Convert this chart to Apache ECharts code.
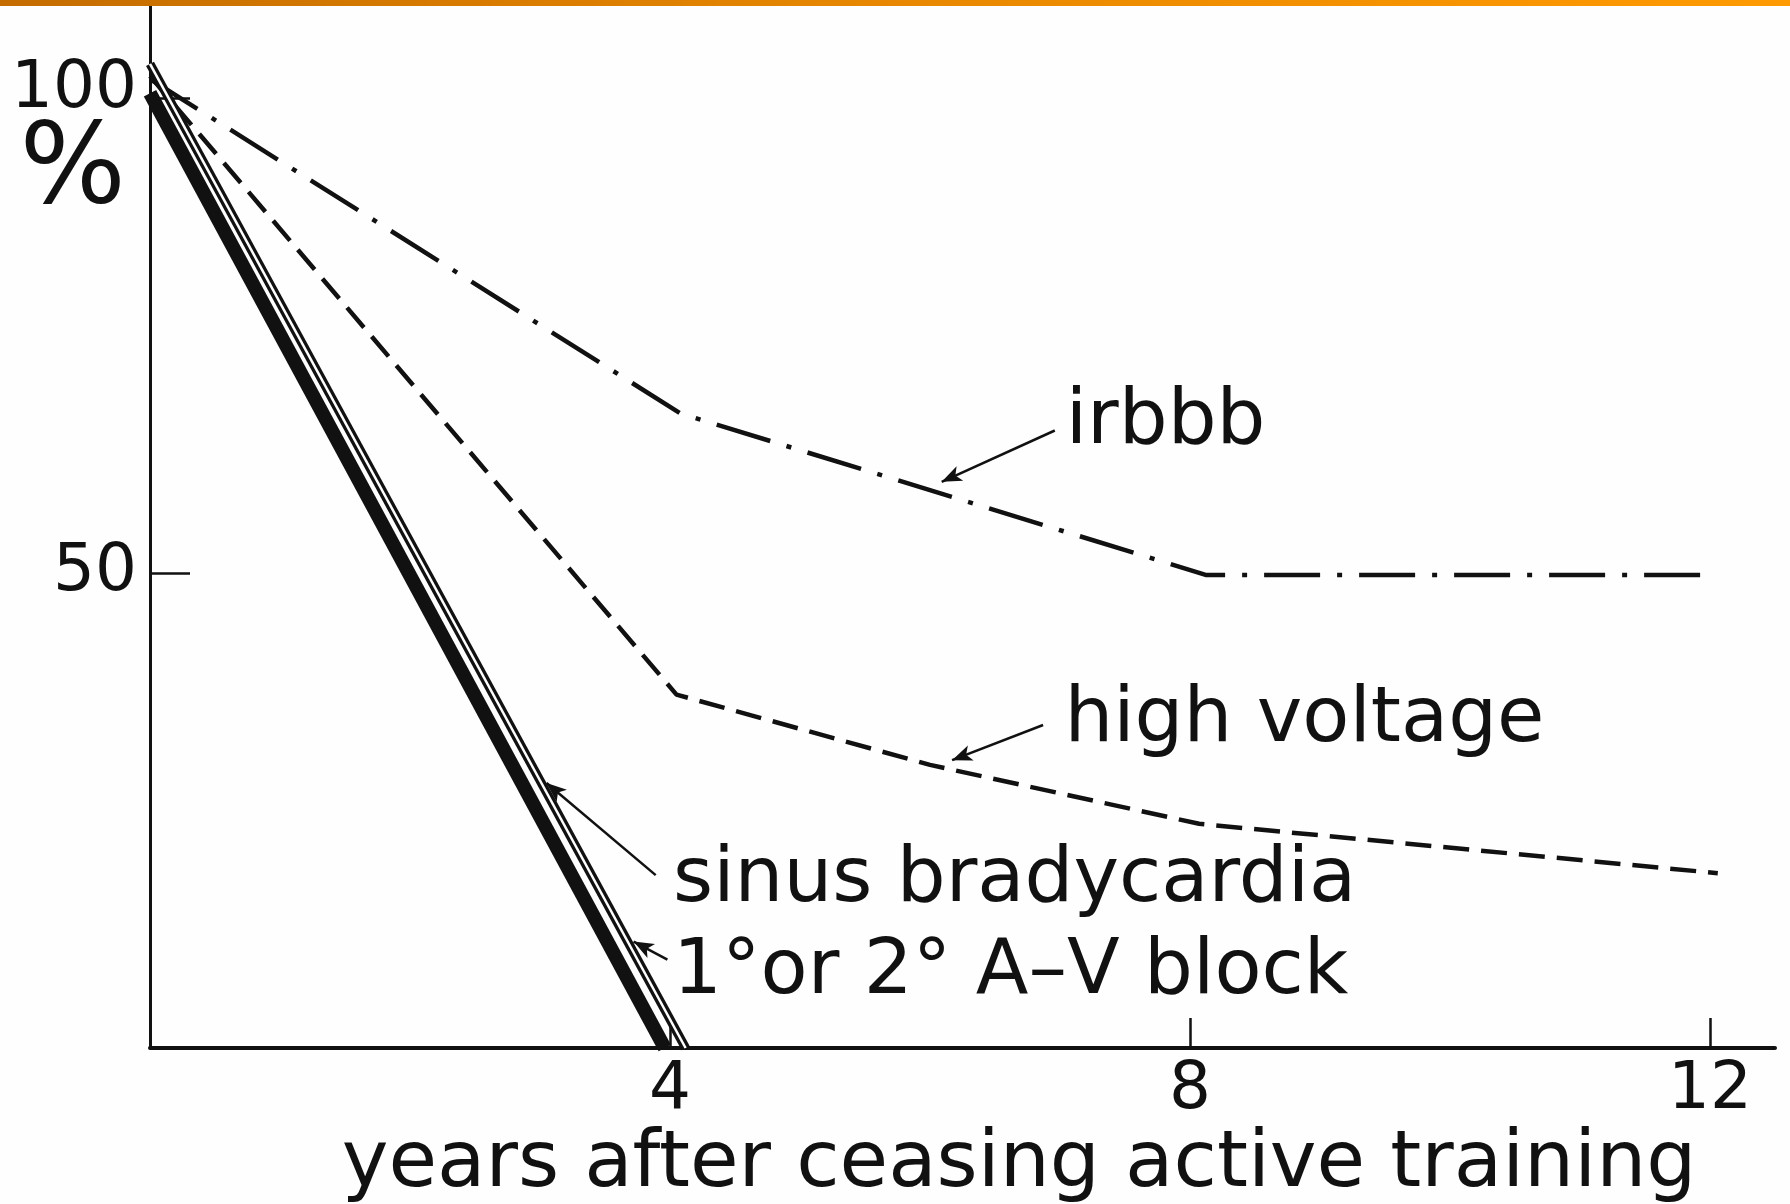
<!DOCTYPE html>
<html><head><meta charset="utf-8">
<script src="https://cdn.jsdelivr.net/npm/echarts@6/dist/echarts.min.js"></script>
<style>html,body{margin:0;padding:0;background:#fefefe}#c{width:1790px;height:1204px}</style>
</head><body><div id="c"></div>
<script>
// ---- data ----
const irbbbX = [0, 4.08, 8.12, 11.98];
const irbbbY = [102, 66.8, 49.8, 49.8];
const highVoltageX = [0, 4.05, 6.0, 8.07, 12.06];
const highVoltageY = [102.3, 37.2, 29.8, 23.6, 18.4];
const sinusX = [0, 4.12];
const sinusY = [103.6, 0];
const avBlockX = [0, 3.96];
const avBlockY = [100.5, 0];
const xTicks = [4, 8, 12];
const yTicks = [50, 100];
const labelTexts = ['irbbb', 'high voltage', 'sinus bradycardia', '1°or 2° A–V block'];
const labelX = [7.04, 7.03, 4.02, 4.02];
const labelY = [65.8, 34.4, 17.6, 7.9];
const arrowFromX = [6.96, 6.87, 3.89, 3.98];
const arrowFromY = [65.0, 34.0, 18.2, 9.3];
const arrowToX = [6.09, 6.17, 3.05, 3.72];
const arrowToY = [59.6, 30.3, 27.9, 11.2];
const xName = 'years after ceasing active training';
const yName = '%';

const zip = (xs, ys) => xs.map((x, i) => [x, ys[i]]);
const INK = '#111';
const FONT = 'DejaVu Sans';

const chart = echarts.init(document.getElementById('c'), null, {renderer: 'canvas'});
chart.setOption({
  animation: false,
  backgroundColor: '#fefefe',
  graphic: [{
    type: 'rect', left: 0, top: 0, z: 100,
    shape: {width: 1790, height: 6},
    style: {fill: new echarts.graphic.LinearGradient(0, 0, 1, 0, [
      {offset: 0, color: '#c46c00'}, {offset: 0.5, color: '#e88800'}, {offset: 1, color: '#ff9a00'}])}
  }],
  grid: {left: 150, right: 15, top: 3, bottom: 156, containLabel: false, outerBoundsMode: 'none'},
  xAxis: {
    type: 'value', min: 0, max: 12.5, interval: 4,
    name: xName, nameLocation: 'middle', nameGap: 78, nameMoveOverlap: false,
    nameTextStyle: {fontFamily: FONT, fontSize: 79, color: INK, padding: [0, 0, 0, 113]},
    axisLine: {show: true, onZero: false, lineStyle: {color: INK, width: 4}},
    axisTick: {show: true, inside: true, length: 30, customValues: xTicks, lineStyle: {color: INK, width: 2.5}},
    axisLabel: {customValues: xTicks, fontFamily: FONT, fontSize: 66, color: INK, margin: 10},
    splitLine: {show: false}
  },
  yAxis: {
    type: 'value', min: 0, max: 110, interval: 50,
    name: yName, nameLocation: 'end', nameGap: -170, nameMoveOverlap: false,
    nameTextStyle: {fontFamily: FONT, fontSize: 112, color: INK, align: 'right', verticalAlign: 'middle', padding: [0, 24, 0, 0]},
    axisLine: {show: true, onZero: false, lineStyle: {color: INK, width: 3}},
    axisTick: {show: true, inside: true, length: 40, customValues: yTicks, lineStyle: {color: INK, width: 2.5}},
    axisLabel: {
      customValues: yTicks, fontFamily: FONT, fontSize: 66, color: INK, margin: 13,
      formatter: v => v === 100 ? '{up|100}' : String(v),
      rich: {up: {fontFamily: FONT, fontSize: 66, color: INK, padding: [0, 0, 16, 0]}}
    },
    splitLine: {show: false}
  },
  series: [
    {name: 'irbbb', type: 'line', symbol: 'none', data: zip(irbbbX, irbbbY),
     lineStyle: {color: INK, width: 4.5, type: [56, 17, 5, 17]}},
    {name: 'high voltage', type: 'line', symbol: 'none', data: zip(highVoltageX, highVoltageY),
     lineStyle: {color: INK, width: 4.5, type: [26, 12]}},
    {name: 'sinus bradycardia', type: 'line', symbol: 'none', data: zip(sinusX, sinusY),
     lineStyle: {color: INK, width: 9}},
    {name: 'sinus bradycardia core', type: 'line', symbol: 'none', data: zip(sinusX, sinusY),
     lineStyle: {color: '#fefefe', width: 2.5}},
    {name: '1° or 2° A–V block', type: 'line', symbol: 'none', data: zip(avBlockX, avBlockY),
     lineStyle: {color: INK, width: 14}},
    {name: 'annotations', type: 'scatter', symbolSize: 1, silent: true,
     itemStyle: {color: 'rgba(0,0,0,0)', opacity: 1},
     data: zip(labelX, labelY),
     label: {show: true, position: 'right', distance: 0, formatter: p => labelTexts[p.dataIndex],
             fontFamily: FONT, fontSize: 77, color: INK, opacity: 1},
     markLine: {
       silent: true, symbol: ['none', 'arrow'], symbolSize: [12, 20],
       lineStyle: {color: INK, width: 2.5, type: 'solid', opacity: 1}, label: {show: false},
       data: arrowFromX.map((x, i) => [{coord: [x, arrowFromY[i]]}, {coord: [arrowToX[i], arrowToY[i]]}])
     }}
  ]
});
</script></body></html>
